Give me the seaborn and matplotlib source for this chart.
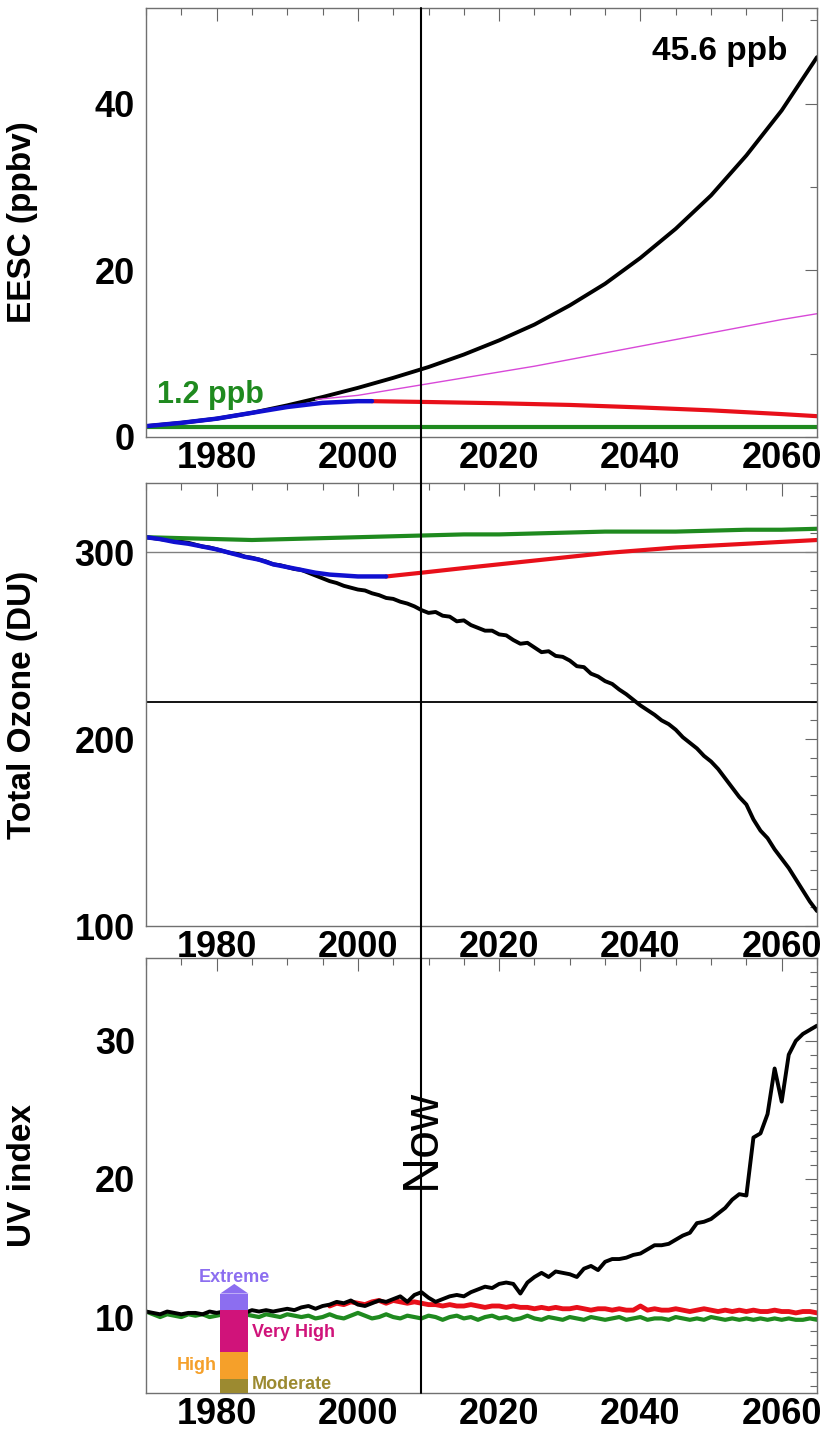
import numpy as np
import pandas as pd
import matplotlib
matplotlib.use("Agg")
import matplotlib.pyplot as plt
from matplotlib.ticker import MultipleLocator
from matplotlib.lines import Line2D
import seaborn as sns

# --- EESC (ppbv) ---
eesc_years = [1970, 1975, 1980, 1985, 1990, 1995, 2000, 2005, 2010, 2015, 2020, 2025,
              2030, 2035, 2040, 2045, 2050, 2055, 2060, 2065]
eesc_world_avoided = [1.3, 1.7, 2.2, 2.9, 3.8, 4.8, 5.9, 7.1, 8.4, 9.9, 11.6, 13.5,
                      15.8, 18.4, 21.5, 25.0, 29.0, 33.8, 39.2, 45.6]
eesc_obs_years = [1970, 1975, 1980, 1985, 1990, 1995, 2000, 2002]
eesc_obs = [1.3, 1.7, 2.2, 2.9, 3.6, 4.1, 4.3, 4.3]
eesc_proj_years = [2002, 2010, 2020, 2030, 2040, 2050, 2060, 2065]
eesc_proj = [4.3, 4.2, 4.05, 3.85, 3.55, 3.2, 2.75, 2.5]
eesc_mid_years = [1994, 2000, 2005, 2010, 2015, 2020, 2025, 2030, 2035, 2040, 2045,
                  2050, 2055, 2060, 2065]
eesc_mid = [4.5, 5.0, 5.7, 6.4, 7.1, 7.8, 8.5, 9.3, 10.1, 10.9, 11.7, 12.5, 13.3, 14.1, 14.8]
eesc_bg_years = [1970, 2065]
eesc_bg = [1.2, 1.2]

# --- Total ozone (DU) ---
oz_years = list(range(1970, 2066))
oz_world_avoided = [
    308, 307.5, 307, 306.5, 306, 305.5, 305, 304, 303, 302.5,
    301.5, 300.5, 299.5, 299, 297.5, 297, 296, 295, 293.5, 293,
    292, 291, 290.5, 289, 287.5, 286, 284.5, 283.5, 282, 281,
    280, 279.5, 278, 277, 275.5, 275, 273.5, 272.5, 271, 269,
    267.5, 268, 266, 265.5, 263, 263.5, 261, 259.5, 258, 258,
    256, 255.5, 253, 251, 251.5, 249, 246.5, 247, 244.5, 244,
    242, 239, 238.5, 235, 233.5, 231, 229.5, 226.5, 224, 221,
    218, 215.5, 213, 210, 208, 205, 201, 198, 195, 191,
    188, 184, 179, 174, 169, 165, 157, 151, 147, 141,
    136, 131, 125, 119, 113, 108]
oz_obs_years = [1970, 1972, 1974, 1976, 1978, 1980, 1982, 1984, 1986, 1988, 1990,
                1992, 1994, 1996, 1998, 2000, 2002, 2004]
oz_obs = [308, 307, 305.5, 304.5, 303, 301.5, 299.5, 297.5, 296, 293.5, 292,
          290.5, 289, 288, 287.5, 287, 287, 287]
oz_proj_years = [2004, 2009, 2015, 2020, 2025, 2030, 2035, 2040, 2045, 2050, 2055, 2060, 2065]
oz_proj = [287, 289, 291.5, 293.5, 295.5, 297.5, 299.5, 301, 302.5, 303.5, 304.5, 305.5, 306.5]
oz_bg_years = [1970, 1975, 1980, 1985, 1990, 1995, 2000, 2005, 2010, 2015, 2020, 2025,
               2030, 2035, 2040, 2045, 2050, 2055, 2060, 2065]
oz_bg = [308, 307.5, 307, 306.5, 307, 307.5, 308, 308.5, 309, 309.5, 309.5, 310,
         310.5, 311, 311, 311, 311.5, 312, 312, 312.5]

# --- UV index ---
uv_years = list(range(1970, 2066))
uv_world_avoided = [
    10.4, 10.3, 10.2, 10.4, 10.3, 10.2, 10.3, 10.3, 10.2, 10.4,
    10.3, 10.4, 10.3, 10.4, 10.3, 10.5, 10.4, 10.5, 10.4, 10.5,
    10.6, 10.5, 10.7, 10.8, 10.6, 10.8, 10.9, 11.1, 11.0, 11.2,
    10.9, 10.8, 11.0, 11.2, 11.1, 11.3, 11.5, 11.1, 11.6, 11.8,
    11.4, 11.1, 11.3, 11.5, 11.6, 11.5, 11.8, 12.0, 12.2, 12.1,
    12.4, 12.5, 12.4, 11.7, 12.5, 12.9, 13.2, 12.9, 13.3, 13.2,
    13.1, 12.9, 13.5, 13.7, 13.4, 14.0, 14.2, 14.2, 14.3, 14.5,
    14.6, 14.9, 15.2, 15.2, 15.3, 15.6, 15.9, 16.1, 16.8, 16.9,
    17.1, 17.5, 17.9, 18.5, 18.9, 18.8, 23.0, 23.3, 24.7, 28.0,
    25.6, 29.0, 30.0, 30.5, 30.8, 31.1]
uv_proj_years = list(range(1996, 2066))
uv_proj = [
    10.8, 11.0, 10.9, 11.1, 11.0, 10.9, 11.1, 11.2, 11.0, 11.2,
    11.1, 11.0, 11.1, 11.0, 10.9, 10.9, 10.8, 10.9, 10.8, 10.8,
    10.9, 10.8, 10.7, 10.8, 10.8, 10.7, 10.8, 10.7, 10.7, 10.6,
    10.7, 10.6, 10.7, 10.6, 10.6, 10.7, 10.6, 10.5, 10.6, 10.6,
    10.5, 10.6, 10.5, 10.5, 10.8, 10.5, 10.6, 10.5, 10.5, 10.6,
    10.5, 10.4, 10.5, 10.6, 10.5, 10.4, 10.5, 10.4, 10.5, 10.4,
    10.5, 10.4, 10.4, 10.5, 10.4, 10.4, 10.3, 10.4, 10.4, 10.3]
uv_bg = [
    10.4, 10.2, 10.0, 10.2, 10.1, 10.0, 10.2, 10.1, 10.2, 10.0,
    10.1, 10.2, 10.1, 10.0, 10.2, 10.1, 10.0, 10.2, 10.1, 10.0,
    10.2, 10.1, 10.0, 10.1, 9.9, 10.0, 10.2, 10.0, 9.9, 10.1,
    10.3, 10.1, 9.9, 10.0, 10.2, 10.0, 9.9, 10.1, 10.0, 9.9,
    10.1, 10.0, 9.8, 10.0, 10.1, 9.9, 10.0, 9.8, 10.0, 10.1,
    9.9, 10.0, 9.8, 9.9, 10.1, 9.9, 9.8, 10.0, 9.9, 9.8,
    10.0, 9.9, 9.8, 10.0, 9.9, 9.8, 9.9, 10.0, 9.8, 9.9,
    10.0, 9.8, 9.9, 9.9, 9.8, 10.0, 9.9, 9.8, 9.9, 9.8,
    10.0, 9.9, 9.8, 9.9, 9.8, 9.9, 9.8, 9.9, 9.8, 9.9,
    9.8, 9.9, 9.8, 9.8, 9.9, 9.8]

# UV category bar
uv_cat_names = ["Moderate", "High", "Very High", "Extreme"]
uv_cat_bottom = [4.5, 5.5, 7.5, 10.5]
uv_cat_top = [5.5, 7.5, 10.5, 11.7]
uv_cat_colors = ["#9c8a30", "#f5a02a", "#d0137a", "#8c6ef0"]
uv_arrow_tip = 12.4
uv_bar_year = 1982.5
uv_bar_width = 4.0

now_year = 2009

BLACK = "black"
GREEN = "#1f8a1f"
RED = "#e8101a"
BLUE = "#1010d0"
MAGENTA = "#d848d8"

sns.set_theme(style="white")
plt.rcParams["font.family"] = ["Liberation Sans", "DejaVu Sans"]

fig = plt.figure(figsize=(8.35, 14.31), dpi=100)
W, H = 835.0, 1431.0
left, right = 146 / W, 817 / W


def make_ax(top_px, bot_px):
    return fig.add_axes([left, 1 - bot_px / H, right - left, (bot_px - top_px) / H])


ax1 = make_ax(8, 437)
ax2 = make_ax(483, 926)
ax3 = make_ax(958, 1393)

# panel 1
sns.lineplot(x=eesc_years, y=eesc_world_avoided, ax=ax1, color=BLACK, lw=2.8)
sns.lineplot(x=eesc_mid_years, y=eesc_mid, ax=ax1, color=MAGENTA, lw=1.0)
sns.lineplot(x=eesc_bg_years, y=eesc_bg, ax=ax1, color=GREEN, lw=3.0)
sns.lineplot(x=eesc_proj_years, y=eesc_proj, ax=ax1, color=RED, lw=3.0)
sns.lineplot(x=eesc_obs_years, y=eesc_obs, ax=ax1, color=BLUE, lw=3.2)
ax1.set_ylim(0, 51.5)
ax1.yaxis.set_major_locator(MultipleLocator(20))
ax1.yaxis.set_minor_locator(MultipleLocator(10))
ax1.set_ylabel("EESC (ppbv)")
ax1.text(2060.8, 46.3, "45.6 ppb", ha="right", va="center", fontsize=24,
         fontweight="bold", color=BLACK)
ax1.text(1971.6, 5.0, "1.2 ppb", ha="left", va="center", fontsize=22,
         fontweight="bold", color=GREEN)

# panel 2
ax2.axhline(300, color="#808080", lw=1.0, zorder=1)
ax2.axhline(220, color="black", lw=1.3, zorder=1)
sns.lineplot(x=oz_years, y=oz_world_avoided, ax=ax2, color=BLACK, lw=2.8)
sns.lineplot(x=oz_bg_years, y=oz_bg, ax=ax2, color=GREEN, lw=3.0)
sns.lineplot(x=oz_proj_years, y=oz_proj, ax=ax2, color=RED, lw=3.0)
sns.lineplot(x=oz_obs_years, y=oz_obs, ax=ax2, color=BLUE, lw=3.2)
ax2.set_ylim(100, 337)
ax2.yaxis.set_major_locator(MultipleLocator(100))
ax2.yaxis.set_minor_locator(MultipleLocator(10))
ax2.set_ylabel("Total Ozone (DU)")

# panel 3
sns.lineplot(x=uv_years, y=uv_bg, ax=ax3, color=GREEN, lw=3.0)
sns.lineplot(x=uv_proj_years, y=uv_proj, ax=ax3, color=RED, lw=3.5)
sns.lineplot(x=uv_years, y=uv_world_avoided, ax=ax3, color=BLACK, lw=2.8)
heights = [t - b for t, b in zip(uv_cat_top, uv_cat_bottom)]
ax3.bar([uv_bar_year] * 4, heights, bottom=uv_cat_bottom, width=uv_bar_width,
        color=uv_cat_colors, edgecolor="none", zorder=3)
x0, x1 = uv_bar_year - uv_bar_width / 2, uv_bar_year + uv_bar_width / 2
ax3.fill([x0, uv_bar_year, x1], [uv_cat_top[-1], uv_arrow_tip, uv_cat_top[-1]],
         color=uv_cat_colors[-1], lw=0, zorder=3)
lab_kw = dict(fontsize=13, fontweight="bold", va="center")
ax3.text(uv_bar_year, uv_arrow_tip + 0.5, "Extreme", ha="center", color=uv_cat_colors[3], **lab_kw)
ax3.text(x1 + 0.5, 8.9, "Very High", ha="left", color=uv_cat_colors[2], **lab_kw)
ax3.text(x0 - 0.5, 6.5, "High", ha="right", color=uv_cat_colors[1], **lab_kw)
ax3.text(x1 + 0.5, 5.1, "Moderate", ha="left", color=uv_cat_colors[0], **lab_kw)
ax3.set_ylim(4.5, 36)
ax3.yaxis.set_major_locator(MultipleLocator(10))
ax3.yaxis.set_minor_locator(MultipleLocator(1))
ax3.set_ylabel("UV index")
ax3.text(now_year, 22.9, "Now", rotation=90, ha="center", va="center", fontsize=36,
         color="black")

for ax in (ax1, ax2, ax3):
    ax.set_xlim(1970, 2065)
    ax.xaxis.set_major_locator(MultipleLocator(20))
    ax.xaxis.set_minor_locator(MultipleLocator(5))
    ax.tick_params(which="both", direction="in", top=True, right=True,
                   color="#666666", width=0.8, labelcolor="black")
    ax.tick_params(which="major", length=9, labelsize=26, pad=3)
    ax.tick_params(which="minor", length=5)
    ax.tick_params(axis="y", pad=8)
    for lab in ax.get_xticklabels() + ax.get_yticklabels():
        lab.set_fontweight("bold")
    for sp in ax.spines.values():
        sp.set_color("#707070")
        sp.set_linewidth(1.0)
    ax.set_xlabel("")
    ax.yaxis.label.set_fontsize(24)
    ax.yaxis.label.set_fontweight("bold")
    ax.yaxis.label.set_color("black")
    ax.yaxis.set_label_coords(-0.161, 0.5)
    ax.grid(False)

# "Now" line spanning all three panels
fx = fig.transFigure.inverted().transform(ax3.transData.transform((now_year, 10)))[0]
fig.add_artist(Line2D([fx, fx], [1 - 1393 / H, 1 - 8 / H], color="black", lw=1.5,
                      transform=fig.transFigure, zorder=10))

fig.savefig("out.png", dpi=100)
